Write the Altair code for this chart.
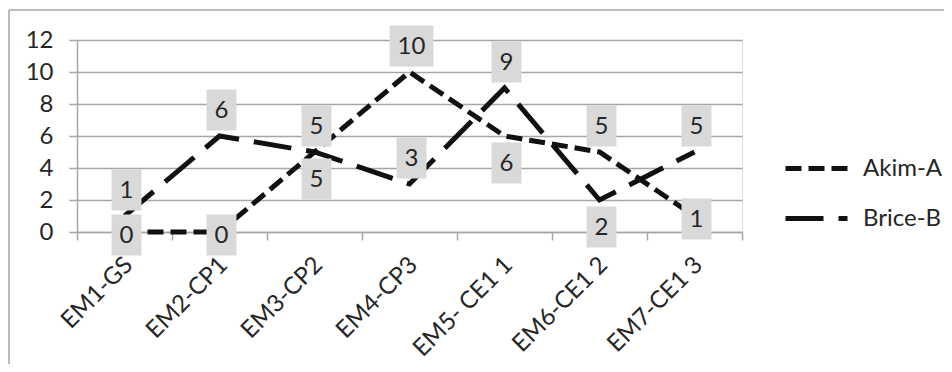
import altair as alt
import pandas as pd

categories = ["EM1-GS", "EM2-CP1", "EM3-CP2", "EM4-CP3", "EM5- CE1 1", "EM6-CE1 2", "EM7-CE1 3"]
series_names = ["Akim-A", "Brice-B"]
akim = [0, 0, 5, 10, 6, 5, 1]
brice = [1, 6, 5, 3, 9, 2, 5]
akim_label_pos = ["center", "center", "above", "above", "below", "above", "center"]
brice_label_pos = ["above", "above", "below", "above", "above", "below", "above"]
y_ticks = [0, 2, 4, 6, 8, 10, 12]

rows = []
for name, vals, pos in [(series_names[0], akim, akim_label_pos), (series_names[1], brice, brice_label_pos)]:
    for c, v, p in zip(categories, vals, pos):
        rows.append({"cat": c, "value": v, "series": name, "pos": p,
                     "label": str(v), "wide": "w" if len(str(v)) > 1 else "n"})
df = pd.DataFrame(rows)

FONT = "Lato"
FS = 24
TXT = "#262626"
GRID = "#a6a6a6"

x_enc = alt.X("cat:N", sort=categories, title=None,
              scale=alt.Scale(type="band", paddingInner=0, paddingOuter=0),
              axis=alt.Axis(tickBand="extent", labelAngle=-45, labelAlign="right",
                            labelBaseline="middle", labelPadding=21, labelOffset=4, grid=False,
                            labelFontSize=24, labelOverlap=False, labelLimit=300))
y_enc = alt.Y("value:Q", title=None,
              scale=alt.Scale(domain=[0, 12], nice=False),
              axis=alt.Axis(values=y_ticks, labelPadding=16, labelOverlap=False, grid=True))

base = alt.Chart(df)

lines = base.mark_line(strokeWidth=5, strokeCap="butt", color="#111111").encode(
    x=x_enc, y=y_enc,
    strokeDash=alt.StrokeDash("series:N", scale=alt.Scale(domain=series_names, range=[[16, 7], [38, 15]]),
                              legend=alt.Legend(title=None, orient="none", legendX=706, legendY=95,
                                                symbolType="stroke", symbolSize=3844,
                                                symbolStrokeWidth=5, symbolStrokeColor="#111111",
                                                labelFontSize=FS, labelFont=FONT, labelColor=TXT,
                                                labelOffset=13, rowPadding=4)),
    detail="series:N",
)

box_narrow = "M-0.73,-1H0.73V1H-0.73Z"
box_wide = "M-1.07,-1H1.07V1H-1.07Z"

offsets = {"above": -26, "below": 27, "center": 3}
label_layers = []
for p, dy in offsets.items():
    sub = base.transform_filter(alt.datum.pos == p)
    label_layers.append(sub.mark_point(filled=True, opacity=1, color="#d9d9d9", size=1681,
                                       yOffset=dy, xOffset=2, strokeWidth=0).encode(
        x=x_enc, y=y_enc,
        shape=alt.Shape("wide:N", scale=alt.Scale(domain=["n", "w"], range=[box_narrow, box_wide]), legend=None),
    ))
    label_layers.append(sub.mark_text(fontSize=FS, font=FONT, color=TXT, yOffset=dy + 1, xOffset=2,
                                      baseline="middle", align="center").encode(
        x=x_enc, y=y_enc, text="label:N"))

frame_top = alt.Chart(pd.DataFrame({"k": [0]})).mark_rule(color=GRID, strokeWidth=1.5).encode(
    x=alt.value(-68), x2=alt.value(900), y=alt.value(-30))
frame_left = alt.Chart(pd.DataFrame({"k": [0]})).mark_rule(color=GRID, strokeWidth=1.5).encode(
    x=alt.value(-68), y=alt.value(-30), y2=alt.value(400))

chart = alt.layer(lines, *label_layers, frame_top, frame_left).properties(
    width=665, height=192,
    autosize=alt.AutoSizeParams(type="none"),
    padding={"left": 69, "top": 32, "right": 202, "bottom": 132},
).configure_view(stroke=None).configure(background="white").configure_axis(
    labelFontSize=FS, labelFont=FONT, labelColor=TXT, tickSize=8, tickColor=GRID,
    tickWidth=1.5, domainColor=GRID, domainWidth=1.5, gridColor=GRID, gridWidth=1.5,
).configure_axisX(grid=False)

chart.save("out.html", embed_options={"renderer": "svg", "actions": False})
